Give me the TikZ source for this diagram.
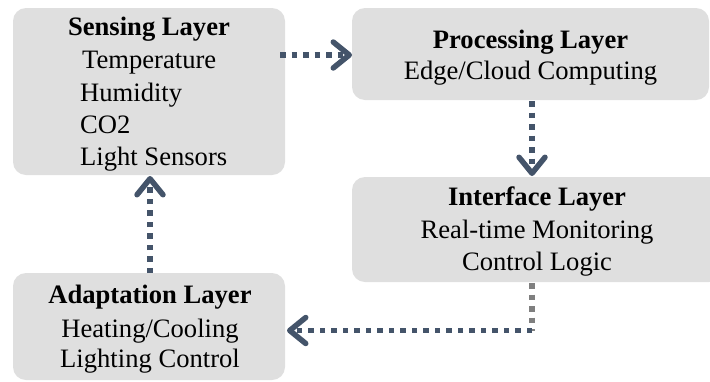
\documentclass[tikz,border=0pt]{standalone}
\usepackage{fontspec}
\setmainfont{Liberation Serif}
\usetikzlibrary{arrows.meta}
\definecolor{boxfill}{HTML}{DFDFDF}
\definecolor{conncol}{HTML}{44546A}
\definecolor{conngray}{HTML}{7F7F7F}
\begin{document}
\begin{tikzpicture}[x=1bp,y=-1bp,
  layerbox/.style={fill=boxfill, rounded corners=13bp},
  txt/.style={inner sep=0pt, font=\fontsize{26.7}{32}\selectfont},
  ttl/.style={txt, font=\fontsize{26.7}{32}\selectfont\bfseries, anchor=base},
  conn/.style={draw=conncol, line width=5.5bp, dash pattern=on 5.5bp off 6bp},
  tipped/.style={conn, -{Straight Barb[length=16bp,width=26bp,line width=5.5bp,round]}}
]
\useasboundingbox (0,0) rectangle (710,381);
\clip (0,0) rectangle (710,381);
% boxes
\path[layerbox] (13,8) rectangle (285,175);
\node[inner sep=0pt, minimum width=272bp, minimum height=167bp] (sense) at (149,91.5) {};
\path[layerbox] (352,8) rectangle (709,100);
\node[inner sep=0pt, minimum width=357bp, minimum height=92bp] (proc) at (530.5,54) {};
\path[layerbox] (352,177) rectangle (722,282);
\node[inner sep=0pt, minimum width=370bp, minimum height=105bp] (iface) at (537,229.5) {};
\path[layerbox] (13,273) rectangle (285,380);
\node[inner sep=0pt, minimum width=272bp, minimum height=107bp] (adapt) at (149,326.5) {};
% texts
\node[ttl] (senseT) at (149,35) {Sensing Layer};
\node[txt, anchor=base west] (s1) at (82,68) {Temperature};
\node[txt, anchor=base west] (s2) at (80,101) {Humidity};
\node[txt, anchor=base west] (s3) at (80,133) {CO2};
\node[txt, anchor=base west] (s4) at (80,165) {Light Sensors};
\node[ttl] (procT) at (530.5,48) {Processing Layer};
\node[txt, anchor=base] (p1) at (530.5,79) {Edge/Cloud Computing};
\node[ttl] (ifaceT) at (537,205) {Interface Layer};
\node[txt, anchor=base] (i1) at (537,238) {Real-time Monitoring};
\node[txt, anchor=base] (i2) at (537,270) {Control Logic};
\node[ttl] (adaptT) at (150,303) {Adaptation Layer};
\node[txt, anchor=base] (a1) at (150,337) {Heating/Cooling};
\node[txt, anchor=base] (a2) at (150,367) {Lighting Control};
% connectors
\coordinate (c1s) at (280,55);
\coordinate (c1e) at (352,55);
\draw[tipped] (c1s) -- (c1e);
\coordinate (c2s) at (532,101);
\coordinate (c2e) at (532,176);
\draw[tipped] (c2s) -- (c2e);
\coordinate (c3s) at (532,283);
\coordinate (elbow) at (532,330.5);
\coordinate (c3e) at (287,330.5);
\draw[conn, draw=conngray] (c3s) -- (elbow);
\draw[tipped] (elbow) -- (c3e);
\coordinate (c4s) at (150,273);
\coordinate (c4e) at (150,176);
\draw[tipped] (c4s) -- (c4e);
\end{tikzpicture}
\end{document}
